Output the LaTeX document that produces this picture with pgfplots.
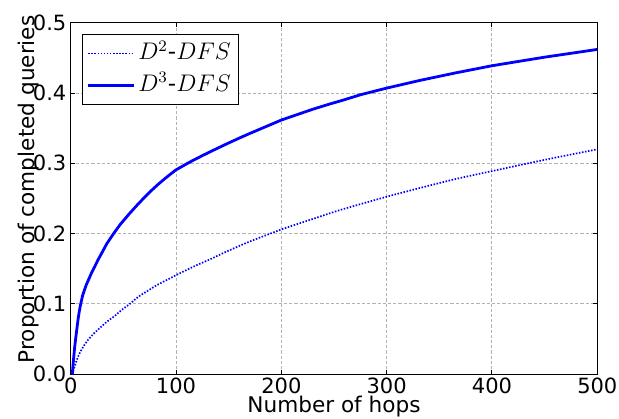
\documentclass[border=0pt]{standalone}
\usepackage[no-math]{fontspec}
\setmainfont{DejaVu Sans}
\usepackage{pgfplots}
\pgfplotsset{compat=1.18}
\definecolor{mplblue}{RGB}{0,0,255}
\begin{document}
\begin{tikzpicture}
\path[use as bounding box] (-35.35pt,-21.85pt) rectangle (274.15pt,187.15pt);
\begin{axis}[
  at={(0pt,0pt)}, anchor=south west,
  scale only axis, width=263.3pt, height=175.8pt,
  xmin=0, xmax=500, ymin=0, ymax=0.5,
  xtick={0,100,200,300,400,500},
  ytick={0,0.1,0.2,0.3,0.4,0.5},
  /pgf/number format/assume math mode=true,
  yticklabel style={/pgf/number format/fixed, /pgf/number format/fixed zerofill, /pgf/number format/precision=1},
  scaled y ticks=false,
  tick label style={font=\fontsize{10.5}{12}\selectfont, inner sep=0pt},
  xticklabel style={anchor=north, yshift=-1.5pt},
  yticklabel style={anchor=east, xshift=-2pt},
  tick align=inside, major tick length=2pt,
  tick style={black, line width=0.5pt},
  axis line style={black, line width=0.5pt},
  grid=major,
  major grid style={black!30, line width=0.5pt, dash pattern=on 1.6pt off 1pt},
  xlabel={Number of hops},
  ylabel={Proportion of completed queries},
  label style={font=\fontsize{10.8}{12}\selectfont, inner sep=0pt},
  xlabel style={at={(axis description cs:0.5,0)}, anchor=base, yshift=-19.1pt},
  ylabel style={at={(axis description cs:-0.0678,0.526)}, anchor=base},
  legend cell align=left,
  legend image code/.code={\draw[#1] (0pt,0pt) -- (22.85pt,0pt);},
  legend style={at={(axis description cs:0.0209,0.968)}, anchor=north west,
    draw=black, line width=0.5pt, fill=white,
    inner xsep=2.3pt, inner ysep=2.75pt,
    font=\fontsize{11.5}{13}\selectfont,
    row sep=2.35pt,
    nodes={inner sep=1.5pt, text height=8.5pt, text depth=2pt},
    /tikz/every even column/.append style={column sep=5.35pt}},
]
\addplot[mplblue, line width=0.85pt, dash pattern=on 0.75pt off 0.8pt, smooth, tension=0.4] coordinates {
(1.5,0) (3.5,0.010) (6.9,0.0248) (11,0.037) (16.4,0.0488) (22,0.058) (29,0.0677)
(35,0.0755) (41.8,0.083) (48,0.091) (56,0.100) (64,0.110) (73.4,0.119) (82,0.127)
(92.4,0.135) (100,0.141) (120,0.1555) (132.3,0.1635) (145,0.1725) (160.8,0.183) (170.3,0.189)
(200,0.206) (230,0.221) (255.7,0.2336) (300,0.2525) (331.7,0.2650) (365,0.2775)
(400,0.289) (450,0.305) (500,0.320)
};
\addlegendentry{$D^2$-$DFS$}
\addplot[mplblue, line width=1.4pt] coordinates {
(1.5,0) (2.5,0.018) (3.8,0.039) (5.3,0.058) (6.9,0.077) (8.2,0.090) (9.5,0.100)
(11.3,0.112) (13.3,0.121) (15,0.128) (17.1,0.135) (20,0.145) (22.8,0.153) (26,0.163)
(29,0.171) (34,0.185) (40.2,0.199) (47,0.213) (56,0.2289) (63,0.2405) (70.3,0.2520) (76,0.2605)
(82.9,0.2700) (90,0.279) (99.7,0.2905) (113.3,0.302) (125,0.311) (138.7,0.321)
(150,0.329) (160.8,0.3364) (170.3,0.3427) (185,0.352) (200,0.3616) (230,0.377)
(246,0.3844) (260,0.3905) (275,0.3975) (300,0.407) (331.7,0.418) (365,0.4285) (400,0.4388)
(450,0.451) (500,0.462)
};
\addlegendentry{$D^3$-$DFS$}
\end{axis}
\end{tikzpicture}
\end{document}
